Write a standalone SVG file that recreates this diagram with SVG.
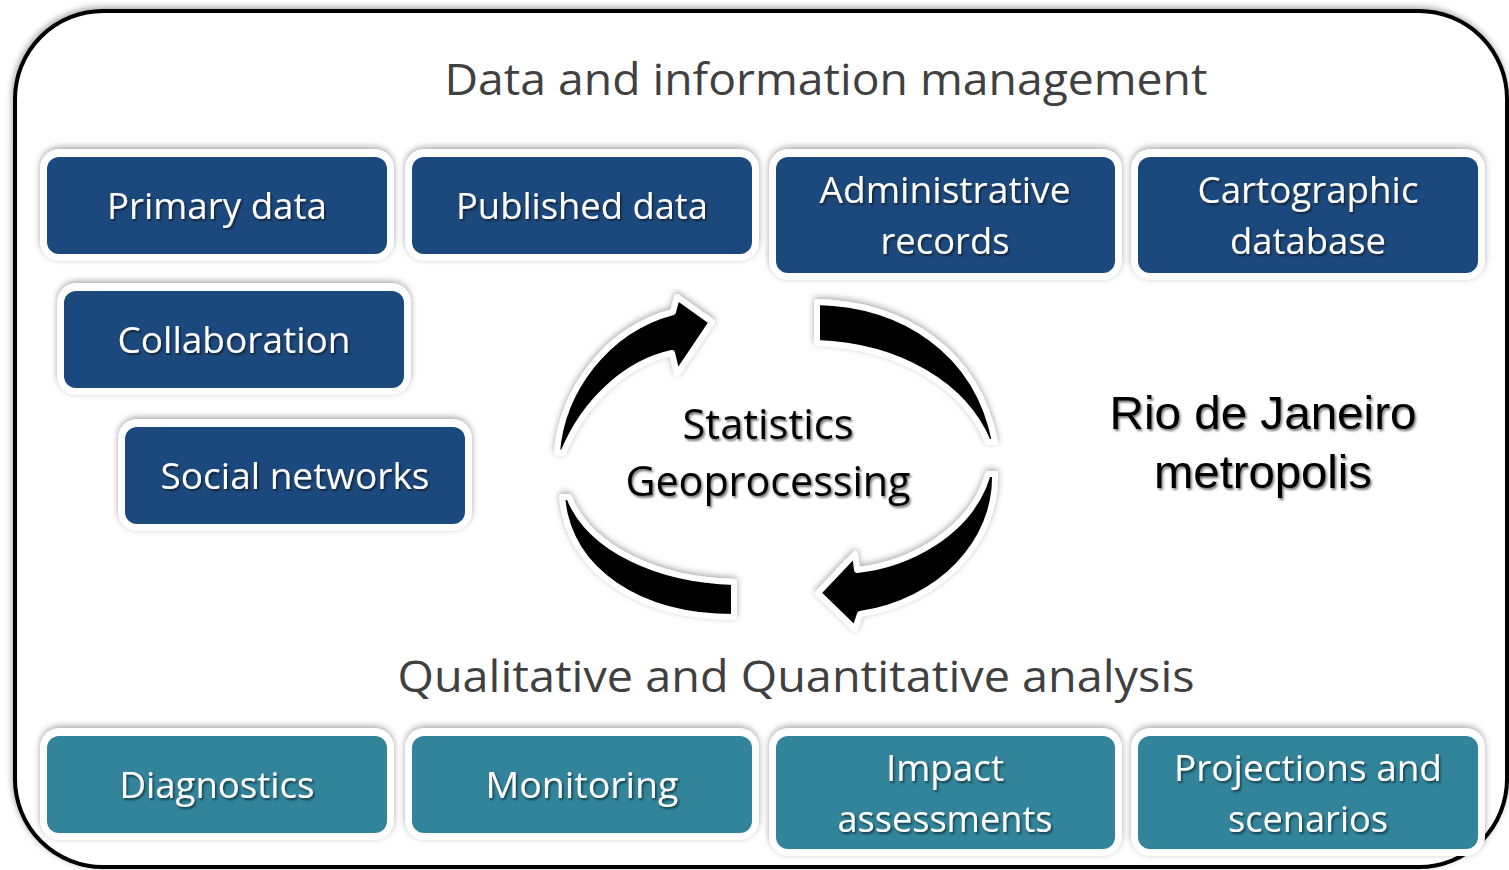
<svg xmlns="http://www.w3.org/2000/svg" width="1509" height="870" viewBox="0 0 1509 870">
  <defs>
    <filter id="shadow" x="-10%" y="-15%" width="120%" height="130%">
      <feDropShadow dx="0" dy="-2" stdDeviation="3" flood-color="#000" flood-opacity="0.35"/>
    </filter>
    <filter id="frameShadow" x="-5%" y="-5%" width="110%" height="110%">
      <feDropShadow dx="-1" dy="-2" stdDeviation="3" flood-color="#000" flood-opacity="0.35"/>
    </filter>
    <filter id="tshadow" x="-10%" y="-20%" width="120%" height="150%">
      <feDropShadow dx="1.5" dy="2" stdDeviation="1.2" flood-color="#000" flood-opacity="0.55"/>
    </filter>
    <style>
      .frame { fill: #ffffff; stroke: #000000; stroke-width: 4; }
      .halo { fill: #ffffff; }
      .blue { fill: #1F497D; }
      .teal { fill: #31849B; }
      .lbl { font-family: "Open Sans", "Noto Sans", sans-serif; font-size: 36px; fill: #ffffff; text-anchor: middle; }
      .head { font-family: "Open Sans", "Noto Sans", sans-serif; font-size: 44px; fill: #404040; text-anchor: middle; }
      .center { font-family: "Open Sans", "Noto Sans", sans-serif; font-size: 42px; fill: #000000; text-anchor: middle; }
      .rio { font-family: "Liberation Sans", Arial, sans-serif; font-size: 47px; fill: #000000; text-anchor: middle; }
      .arrow { fill: #000000; stroke: #ffffff; stroke-width: 6; stroke-linejoin: round; }
    </style>
  </defs>

  <rect x="0" y="0" width="1509" height="870" fill="#ffffff"/>

  <g id="frame">
    <rect class="frame" x="15" y="11" width="1492" height="856" rx="88" ry="88" filter="url(#frameShadow)"/>
  </g>

  <g id="title-data">
    <text class="head" x="826" y="95" textLength="763" lengthAdjust="spacingAndGlyphs">Data and information management</text>
  </g>
  <g id="title-analysis">
    <text class="head" x="796" y="692" textLength="797" lengthAdjust="spacingAndGlyphs">Qualitative and Quantitative analysis</text>
  </g>

  <!-- Row 1 -->
  <g id="primary-data" filter="url(#shadow)">
    <rect class="halo" x="40" y="149" width="354" height="112" rx="20"/>
    <rect class="blue" x="47" y="157" width="340" height="97" rx="12"/>
    <text class="lbl" x="217" y="219" textLength="220" lengthAdjust="spacingAndGlyphs" filter="url(#tshadow)">Primary data</text>
  </g>
  <g id="published-data" filter="url(#shadow)">
    <rect class="halo" x="405" y="149" width="354" height="112" rx="20"/>
    <rect class="blue" x="412" y="157" width="340" height="97" rx="12"/>
    <text class="lbl" x="582" y="219" textLength="252" lengthAdjust="spacingAndGlyphs" filter="url(#tshadow)">Published data</text>
  </g>
  <g id="administrative-records" filter="url(#shadow)">
    <rect class="halo" x="769" y="149" width="353" height="131" rx="20"/>
    <rect class="blue" x="776" y="157" width="339" height="116" rx="12"/>
    <text class="lbl" x="945" y="203" textLength="251" lengthAdjust="spacingAndGlyphs" filter="url(#tshadow)">Administrative</text>
    <text class="lbl" x="945" y="254" textLength="129" lengthAdjust="spacingAndGlyphs" filter="url(#tshadow)">records</text>
  </g>
  <g id="cartographic-database" filter="url(#shadow)">
    <rect class="halo" x="1131" y="149" width="354" height="131" rx="20"/>
    <rect class="blue" x="1138" y="157" width="340" height="116" rx="12"/>
    <text class="lbl" x="1308" y="203" textLength="221" lengthAdjust="spacingAndGlyphs" filter="url(#tshadow)">Cartographic</text>
    <text class="lbl" x="1308" y="254" textLength="156" lengthAdjust="spacingAndGlyphs" filter="url(#tshadow)">database</text>
  </g>

  <g id="collaboration" filter="url(#shadow)">
    <rect class="halo" x="57" y="283" width="354" height="112" rx="20"/>
    <rect class="blue" x="64" y="291" width="340" height="97" rx="12"/>
    <text class="lbl" x="234" y="353" textLength="233" lengthAdjust="spacingAndGlyphs" filter="url(#tshadow)">Collaboration</text>
  </g>
  <g id="social-networks" filter="url(#shadow)">
    <rect class="halo" x="118" y="419" width="354" height="112" rx="20"/>
    <rect class="blue" x="125" y="427" width="340" height="97" rx="12"/>
    <text class="lbl" x="295" y="489" textLength="269" lengthAdjust="spacingAndGlyphs" filter="url(#tshadow)">Social networks</text>
  </g>

  <!-- Bottom row -->
  <g id="diagnostics" filter="url(#shadow)">
    <rect class="halo" x="40" y="728" width="354" height="112" rx="20"/>
    <rect class="teal" x="47" y="736" width="340" height="97" rx="12"/>
    <text class="lbl" x="217" y="798" textLength="195" lengthAdjust="spacingAndGlyphs" filter="url(#tshadow)">Diagnostics</text>
  </g>
  <g id="monitoring" filter="url(#shadow)">
    <rect class="halo" x="405" y="728" width="354" height="112" rx="20"/>
    <rect class="teal" x="412" y="736" width="340" height="97" rx="12"/>
    <text class="lbl" x="582" y="798" textLength="193" lengthAdjust="spacingAndGlyphs" filter="url(#tshadow)">Monitoring</text>
  </g>
  <g id="impact-assessments" filter="url(#shadow)">
    <rect class="halo" x="769" y="728" width="353" height="128" rx="20"/>
    <rect class="teal" x="776" y="736" width="339" height="113" rx="12"/>
    <text class="lbl" x="945" y="781" textLength="118" lengthAdjust="spacingAndGlyphs" filter="url(#tshadow)">Impact</text>
    <text class="lbl" x="945" y="832" textLength="215" lengthAdjust="spacingAndGlyphs" filter="url(#tshadow)">assessments</text>
  </g>
  <g id="projections-scenarios" filter="url(#shadow)">
    <rect class="halo" x="1131" y="728" width="354" height="128" rx="20"/>
    <rect class="teal" x="1138" y="736" width="340" height="113" rx="12"/>
    <text class="lbl" x="1308" y="781" textLength="268" lengthAdjust="spacingAndGlyphs" filter="url(#tshadow)">Projections and</text>
    <text class="lbl" x="1308" y="832" textLength="160" lengthAdjust="spacingAndGlyphs" filter="url(#tshadow)">scenarios</text>
  </g>

  <!-- Cycle arrows -->
  <g id="connectors" filter="url(#shadow)">
    <path class="arrow" d="M 557 452 C 562 392, 605 330, 673 312 L 677 297 L 712 322 L 677 374 L 672 353 C 630 362, 586 397, 563 453 Z"/>
    <path class="arrow" d="M 817 302 C 902 304, 977 350, 995 442 L 988 442 C 965 386, 900 346, 817 343 Z"/>
    <path class="arrow" d="M 995 474 C 997 542, 940 602, 860 614 L 855 629 L 818 593 L 855 554 L 857 570 C 905 565, 970 535, 988 474 Z"/>
    <path class="arrow" d="M 562 497 C 569 572, 640 617, 734 617 L 734 582 C 660 580, 590 550, 569 497 Z"/>
  </g>

  <g id="center-label" filter="url(#tshadow)">
    <text class="center" x="768" y="439" textLength="171" lengthAdjust="spacingAndGlyphs">Statistics</text>
    <text class="center" x="768" y="496" textLength="285" lengthAdjust="spacingAndGlyphs">Geoprocessing</text>
  </g>

  <g id="rio-label" filter="url(#tshadow)">
    <text class="rio" x="1263" y="429" textLength="307" lengthAdjust="spacingAndGlyphs">Rio de Janeiro</text>
    <text class="rio" x="1263" y="488" textLength="218" lengthAdjust="spacingAndGlyphs">metropolis</text>
  </g>
</svg>
